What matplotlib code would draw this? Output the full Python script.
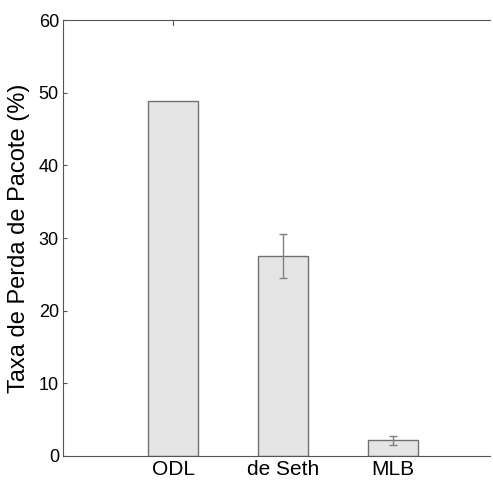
import numpy as np
import matplotlib.pyplot as plt

plt.rcParams['font.family'] = ['Liberation Sans', 'DejaVu Sans']

# dados
metodos = ["ODL", "de Seth", "MLB"]
perda = [48.9, 27.5, 2.2]
erro = [0.0, 3.0, 0.62]

fig = plt.figure(figsize=(4.93, 4.8), dpi=100)
ax = fig.add_axes([0.128, 0.05, 0.866, 0.908])

x = np.arange(1, len(metodos) + 1)
ax.bar(x, perda, width=0.45, color="#e5e5e5", edgecolor="#707070", linewidth=1.0)
ax.errorbar(x[1:], perda[1:], yerr=erro[1:], fmt="none", ecolor="#808080",
            elinewidth=1.0, capsize=3, capthick=1.0)

ax.set_xlim(0, 3.88)
ax.set_ylim(0, 60)
ax.set_yticks(range(0, 61, 10))
ax.set_xticks(x)
ax.set_xticklabels(metodos, fontsize=15)
ax.tick_params(axis="y", labelsize=13, direction="in", length=3, color="#555555", pad=3)
ax.tick_params(axis="x", direction="in", length=0, pad=3)
ax.set_ylabel("Taxa de Perda de Pacote (%)", fontsize=17, labelpad=6)

ax.spines["right"].set_visible(False)
for s in ["left", "bottom", "top"]:
    ax.spines[s].set_color("#555555")
# pequena marca no topo sobre a primeira barra
ax.plot([1, 1], [60, 59.3], color="#555555", linewidth=0.8, clip_on=False)

fig.savefig("out.png", dpi=100)
